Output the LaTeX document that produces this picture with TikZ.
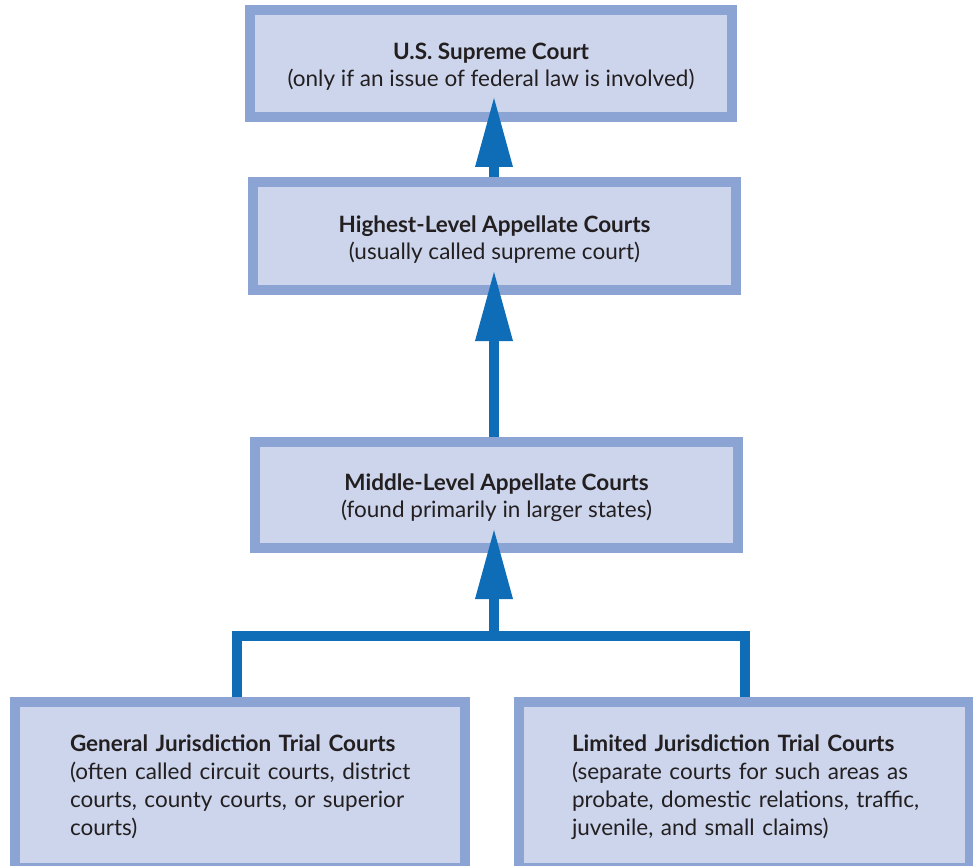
\documentclass[tikz,border=0pt]{standalone}
\usepackage{fontspec}
\setmainfont{Lato}
\usetikzlibrary{arrows.meta}
\definecolor{bordc}{HTML}{8BA4D4}
\definecolor{fillc}{HTML}{CCD5EC}
\definecolor{arrc}{HTML}{0E6DB6}
\definecolor{txtc}{HTML}{231F20}
\newcommand{\toppad}[1]{\rule{0pt}{#1}}
\begin{document}
\begin{tikzpicture}[x=1pt,y=-1pt,
  court/.style={draw=bordc, fill=fillc, line width=10pt, inner sep=0pt, text=txtc,
    font=\fontsize{22.5}{27}\selectfont},
  trial/.style={court, minimum height=166pt, align=left, font=\fontsize{22.5}{28}\selectfont},
  arr/.style={draw=arrc, line width=10pt,
    -{Triangle[width=38pt,length=69pt,line width=0pt,color=arrc]}},
  conn/.style={draw=arrc, line width=10pt, line join=miter}]
\useasboundingbox (0,0) rectangle (973,866);
\node[court, minimum width=482pt, minimum height=107pt, align=center] (sc) at (491,63.5)
  {\toppad{23pt}\textbf{U.S. Supreme Court}\\(only if an issue of federal law is involved)};
\node[court, minimum width=483pt, minimum height=108pt, align=center] (hi) at (494.5,236)
  {\toppad{23pt}\textbf{Highest-Level Appellate Courts}\\(usually called supreme court)};
\node[court, minimum width=483pt, minimum height=106pt, align=center] (mid) at (496.5,495)
  {\toppad{23pt}\textbf{Middle-Level Appellate Courts}\\(found primarily in larger states)};
\node[trial, minimum width=450pt, text width=340pt] (gj) at (240,785)
  {\toppad{21pt}\mbox{\textbf{General Jurisdiction Trial Courts}}\\\mbox{(often called circuit courts, district}\\\mbox{courts, county courts, or superior}\\\mbox{courts)}};
\node[trial, minimum width=451pt, text width=345pt] (lj) at (744.5,785)
  {\toppad{21pt}\mbox{\textbf{Limited Jurisdiction Trial Courts}}\\\mbox{(separate courts for such areas as}\\\mbox{probate, domestic relations, traffic,}\\\mbox{juvenile, and small claims)}};
\coordinate (j) at (494,636);
\draw[arr, shorten >=-24pt] (494,0 |- hi.north) -- (494,0 |- sc.south);
\draw[arr, shorten >=-23pt] (494,0 |- mid.north) -- (494,0 |- hi.south);
\draw[conn] ([xshift=-3.5pt]gj.north) |- (lj.north |- j) -- (lj.north);
\draw[arr, shorten >=-23pt] (j) -- (494,0 |- mid.south);
\end{tikzpicture}
\end{document}
